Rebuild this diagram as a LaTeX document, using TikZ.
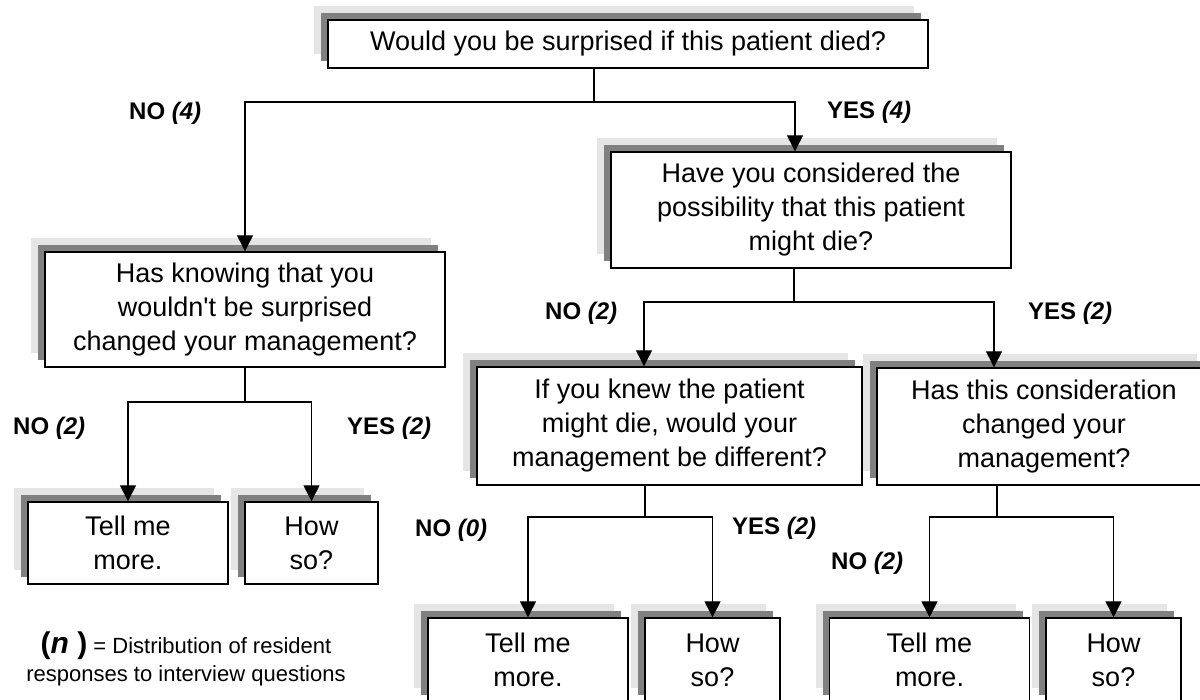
\documentclass[tikz,border=0pt]{standalone}
\usepackage{fontspec}
\setmainfont{Liberation Sans}[Ligatures=TeXOff]
\usetikzlibrary{arrows.meta,shadows}
\definecolor{shlight}{gray}{0.9}
\definecolor{shdark}{gray}{0.5}
\tikzset{
  qbox/.style={draw=black, line width=1.4pt, fill=white, align=center, inner sep=0pt,
    font=\fontsize{27pt}{34pt}\selectfont,
    general shadow={fill=shlight, shadow xshift=-14pt, shadow yshift=14pt},
    general shadow={fill=shdark, shadow xshift=-7pt, shadow yshift=7pt}},
  lbl/.style={anchor=west, inner sep=0pt, font=\fontsize{24pt}{28pt}\selectfont\bfseries},
  conn/.style={line width=1.3pt},
  arr/.style={conn, -{Triangle[width=16pt,length=16pt]}},
}
\begin{document}
\begin{tikzpicture}[x=1pt,y=-1pt]
\useasboundingbox (0,0) rectangle (1200,700);
\clip (0,0) rectangle (1200,700);
% boxes
\node[qbox, minimum width=600pt, minimum height=48pt] (top) at (628,44) {Would you be surprised if this patient died?};
\node[qbox, minimum width=400pt, minimum height=115pt] (know) at (245,309.5) {Has knowing that you\\wouldn't be surprised\\changed your management?};
\node[qbox, minimum width=400pt, minimum height=116pt] (have) at (811,210) {Have you considered the\\possibility that this patient\\might die?};
\node[qbox, minimum width=385pt, minimum height=118pt] (knew) at (669.5,426) {If you knew the patient\\might die, would your\\management be different?};
\node[qbox, minimum width=334pt, minimum height=117pt] (hasthis) at (1044,426.5) {Has this consideration\\changed your\\management?};
\node[qbox, minimum width=200pt, minimum height=82pt] (tm1) at (128,543) {Tell me\\more.};
\node[qbox, minimum width=133pt, minimum height=82pt] (hs1) at (311.5,543) {How\\so?};
\node[qbox, minimum width=200pt, minimum height=84pt] (tm2) at (528,660) {Tell me\\more.};
\node[qbox, minimum width=135pt, minimum height=84pt] (hs2) at (712.5,660) {How\\so?};
\node[qbox, minimum width=200pt, minimum height=84pt] (tm3) at (929.5,660) {Tell me\\more.};
\node[qbox, minimum width=135pt, minimum height=84pt] (hs3) at (1113.5,660) {How\\so?};
% junctions
\coordinate (j1) at (594,102);
\coordinate (j2) at (245,402);
\coordinate (j3) at (794,302);
\coordinate (j4) at (645,517);
\coordinate (j5) at (997,517);
% connectors
\draw[conn] (top.south -| j1) -- (j1);
\draw[arr] (j1) -| (know.north);
\draw[arr] (j1) -| ([xshift=-16pt]have.north);
\draw[conn] (know.south) -- (j2);
\draw[arr] (j2) -| (tm1.north);
\draw[arr] (j2) -| (hs1.north);
\draw[conn] (have.south -| j3) -- (j3);
\draw[arr] (j3) -| ([xshift=-25.5pt]knew.north);
\draw[arr] (j3) -| ([xshift=-50pt]hasthis.north);
\draw[conn] (knew.south -| j4) -- (j4);
\draw[arr] (j4) -| (tm2.north);
\draw[arr] (j4) -| (hs2.north);
\draw[conn] (hasthis.south -| j5) -- (j5);
\draw[arr] (j5) -| (tm3.north);
\draw[arr] (j5) -| (hs3.north);
% labels
\node[lbl] (l1) at (129,113) {NO \textit{(4)}};
\node[lbl] (l2) at (827,112) {YES \textit{(4)}};
\node[lbl] (l3) at (13,428) {NO \textit{(2)}};
\node[lbl] (l4) at (347,428) {YES \textit{(2)}};
\node[lbl] (l5) at (545,313) {NO \textit{(2)}};
\node[lbl] (l6) at (1028,313) {YES \textit{(2)}};
\node[lbl] (l7) at (415,530) {NO \textit{(0)}};
\node[lbl] (l8) at (732,528) {YES \textit{(2)}};
\node[lbl] (l9) at (831,563) {NO \textit{(2)}};
% legend
\node[align=center, inner sep=0pt, font=\fontsize{22pt}{28pt}\selectfont] (legend) at (186,659)
  {{\fontsize{30pt}{28pt}\selectfont\bfseries(\textit{n} )} = Distribution of resident\\responses to interview questions};
\end{tikzpicture}
\end{document}
